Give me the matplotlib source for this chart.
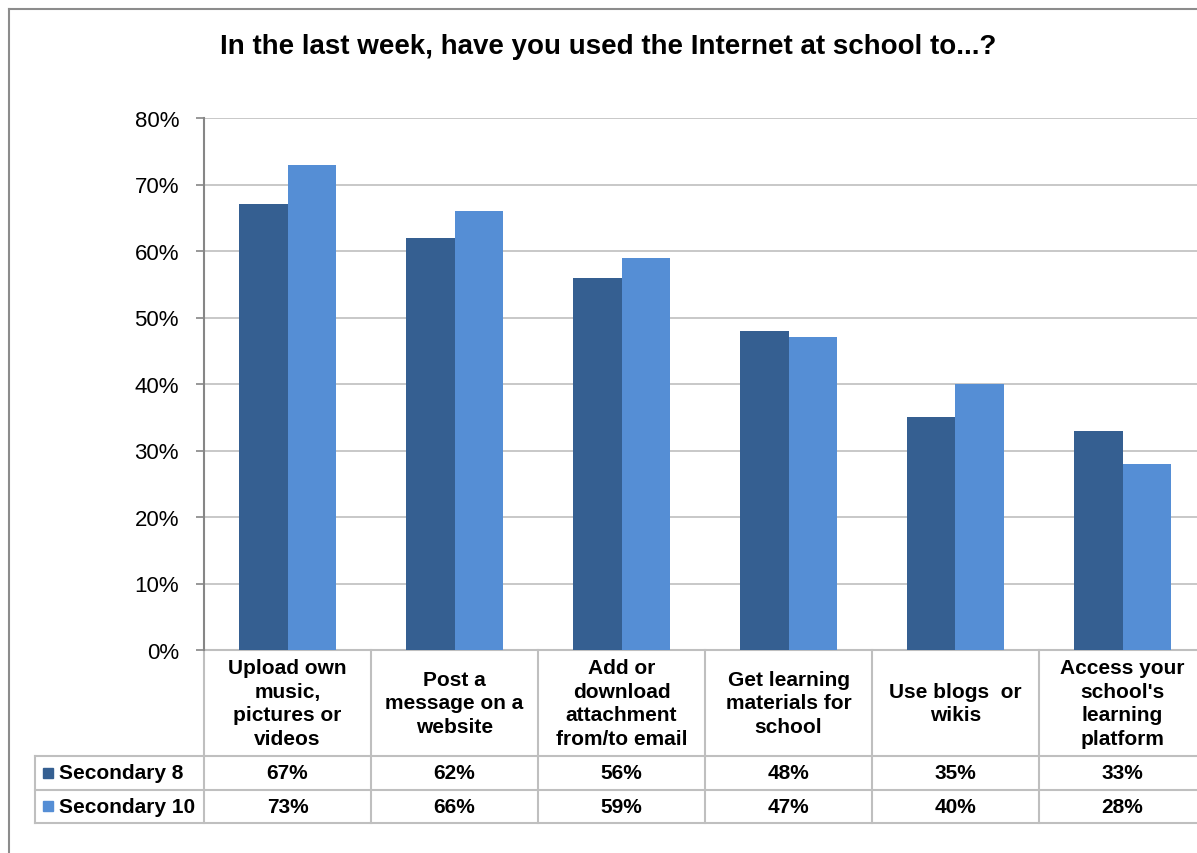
import numpy as np
import matplotlib.pyplot as plt
from matplotlib.lines import Line2D
from matplotlib.transforms import blended_transform_factory

plt.rcParams['font.family'] = ['Liberation Sans', 'DejaVu Sans']

title = "In the last week, have you used the Internet at school to...?"
categories = ["Upload own\nmusic,\npictures or\nvideos",
              "Post a\nmessage on a\nwebsite",
              "Add or\ndownload\nattachment\nfrom/to email",
              "Get learning\nmaterials for\nschool",
              "Use blogs  or\nwikis",
              "Access your\nschool's\nlearning\nplatform"]
series_names = ["Secondary 8", "Secondary 10"]
sec8 = [67, 62, 56, 48, 35, 33]
sec10 = [73, 66, 59, 47, 40, 28]
yticks = [0, 10, 20, 30, 40, 50, 60, 70, 80]

colors = ["#355F91", "#558ED5"]
grid_col = "#BFBFBF"
axis_col = "#868686"

W, H = 1197, 854
fig = plt.figure(figsize=(W / 100, H / 100), dpi=100)

# plot area in pixels
left, right, top, bottom = 204, 1197, 119, 651
cat_w = 167.0
ax = fig.add_axes([left / W, 1 - bottom / H, (right - left) / W, (bottom - top) / H])
ax.set_xlim(-0.5, -0.5 + (right - left) / cat_w)
ax.set_ylim(0, 80)

x = np.arange(len(categories))
bw = 0.29
ax.bar(x - bw / 2, sec8, bw, color=colors[0], zorder=3)
ax.bar(x + bw / 2, sec10, bw, color=colors[1], zorder=3)

ax.set_yticks(yticks)
ax.set_yticklabels([f"{v}%" for v in yticks], fontsize=16)
ax.yaxis.grid(True, color=grid_col, linewidth=1.2, zorder=0)
ax.set_xticks([])
for s in ["top", "right", "bottom"]:
    ax.spines[s].set_visible(False)
ax.spines["left"].set_color(axis_col)
ax.spines["left"].set_linewidth(1.5)
ax.tick_params(axis="y", length=6, width=1.2, color=axis_col, pad=12)

# data table below the plot area: x in data units, y in pixels from the top
def py(p):
    return (bottom - p) / (bottom - top)

tr = blended_transform_factory(ax.transData, ax.transAxes)
row_lines = [757, 790.5, 824]
xmax = ax.get_xlim()[1]
table_left = -0.5 - (left - 35) / cat_w
lc = "#BFBFBF"
for r in row_lines:
    ax.add_line(Line2D([table_left, xmax], [py(r), py(r)], transform=tr,
                       color=lc, lw=1.5, clip_on=False))
ax.add_line(Line2D([-0.5, xmax], [0, 0], transform=tr, color=lc, lw=1.5, clip_on=False))
for i in range(len(categories) + 1):
    ax.add_line(Line2D([i - 0.5, i - 0.5], [0, py(row_lines[-1])], transform=tr,
                       color=lc, lw=1.5, clip_on=False))
ax.add_line(Line2D([table_left, table_left], [py(row_lines[0]), py(row_lines[-1])],
                   transform=tr, color=lc, lw=1.5, clip_on=False))

fs = 15
for i, lab in enumerate(categories):
    ax.text(i, py((bottom + row_lines[0]) / 2), lab, transform=tr, ha="center", va="center",
            fontsize=fs, fontweight="bold", linespacing=1.3)

for j, (vals, name) in enumerate(zip([sec8, sec10], series_names)):
    yc = py((row_lines[j] + row_lines[j + 1]) / 2)
    for i, v in enumerate(vals):
        ax.text(i, yc, f"{v}%", transform=tr, ha="center", va="center",
                fontsize=fs, fontweight="bold")
    ax.text(table_left + 24 / cat_w, yc, name, transform=tr, ha="left", va="center",
            fontsize=fs, fontweight="bold")
    ax.add_patch(plt.Rectangle((table_left + 8 / cat_w, yc - 5 / (bottom - top)),
                               10 / cat_w, 10 / (bottom - top), transform=tr,
                               color=colors[j], clip_on=False))

fig.text(608.5 / W, 1 - 47 / H, title, ha="center", va="center",
         fontsize=20, fontweight="bold")

# chart frame
fig.add_artist(Line2D([9 / W, 9 / W], [0, 1 - 10 / H], color="#8C8C8C", lw=1.5))
fig.add_artist(Line2D([9 / W, 1], [1 - 10 / H, 1 - 10 / H], color="#8C8C8C", lw=1.5))

fig.savefig("out.png", dpi=100)
